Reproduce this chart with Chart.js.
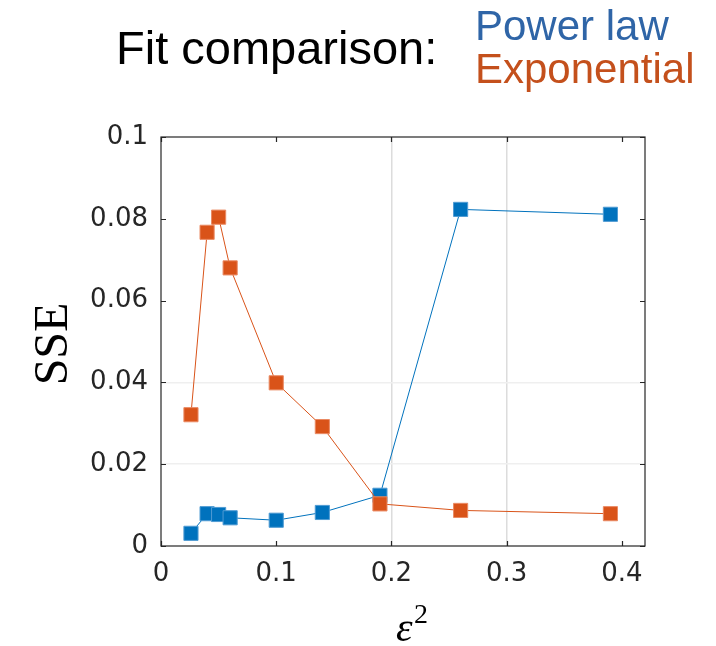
<!DOCTYPE html>
<html>
<head>
<meta charset="utf-8">
<script src="https://cdn.jsdelivr.net/npm/chart.js@4/dist/chart.umd.min.js"></script>
<style>
  html, body { margin: 0; padding: 0; background: #fff; }
  #wrap { width: 716px; height: 646px; }
</style>
</head>
<body>
<div id="wrap"><canvas id="fit" width="716" height="646"></canvas></div>
<script>
// epsilon^2 values on the x axis
const eps2 = [0.026, 0.04, 0.05, 0.06, 0.1, 0.14, 0.19, 0.26, 0.39];
// SSE of each fit
const powerLaw = [0.0031, 0.0079, 0.0077, 0.0069, 0.0063, 0.0082, 0.0124, 0.0823, 0.0811];
const exponential = [0.0321, 0.0767, 0.0804, 0.068, 0.0399, 0.0292, 0.0103, 0.0087, 0.0079];
// tick labels
const xTicks = [0, 0.1, 0.2, 0.3, 0.4];
const yTicks = [0, 0.02, 0.04, 0.06, 0.08, 0.1];
// only these grid lines show in the original
const xGrid = [0.2, 0.3];
const yGrid = [0.02, 0.04];

const BLUE = '#0072BD';
const ORANGE = '#D95319';
const AXIS = '#262626';

const pts = (ys) => eps2.map((x, i) => ({ x: x, y: ys[i] }));

// box, inward ticks, axis titles and the header text
const decor = {
  id: 'decor',
  afterDatasetsDraw(chart) {
    const { ctx, chartArea: a, scales: { x, y } } = chart;
    ctx.save();
    ctx.strokeStyle = AXIS;
    ctx.lineWidth = 1.2;
    ctx.strokeRect(a.left, a.top, a.right - a.left, a.bottom - a.top);
    ctx.beginPath();
    xTicks.forEach(v => {
      const px = Math.round(x.getPixelForValue(v)) + 0.5;
      ctx.moveTo(px, a.bottom); ctx.lineTo(px, a.bottom - 5);
      ctx.moveTo(px, a.top); ctx.lineTo(px, a.top + 5);
    });
    yTicks.forEach(v => {
      const py = Math.round(y.getPixelForValue(v)) + 0.5;
      ctx.moveTo(a.left, py); ctx.lineTo(a.left + 5, py);
      ctx.moveTo(a.right, py); ctx.lineTo(a.right - 5, py);
    });
    ctx.stroke();

    // y title
    ctx.fillStyle = '#000';
    ctx.font = '48px "Liberation Serif"';
    ctx.textAlign = 'center';
    ctx.textBaseline = 'alphabetic';
    ctx.translate(67, 344);
    ctx.rotate(-Math.PI / 2);
    ctx.fillText('SSE', 0, 0);
    ctx.restore();

    ctx.save();
    ctx.fillStyle = '#000';
    ctx.textAlign = 'left';
    ctx.textBaseline = 'alphabetic';
    // x title: epsilon squared
    ctx.font = 'italic 42px "Liberation Serif"';
    ctx.fillText('ε', 396, 641);
    ctx.font = '28px "Liberation Serif"';
    ctx.fillText('2', 414, 623);

    // header
    ctx.font = '47px "Liberation Sans"';
    ctx.fillText('Fit comparison:', 116, 64);
    ctx.font = '42px "Liberation Sans"';
    ctx.fillStyle = '#2F65A7';
    ctx.fillText('Power law', 475, 40);
    ctx.fillStyle = '#C4501C';
    ctx.fillText('Exponential', 475, 83);
    ctx.restore();
  }
};

new Chart(document.getElementById('fit'), {
  type: 'line',
  data: {
    datasets: [
      {
        label: 'Power law',
        data: pts(powerLaw),
        borderColor: BLUE,
        borderWidth: 1,
        backgroundColor: BLUE,
        pointStyle: 'rect',
        pointRadius: 10,
        pointBackgroundColor: BLUE,
        pointBorderColor: '#4f9bd3',
        pointBorderWidth: 1,
        order: 2
      },
      {
        label: 'Exponential',
        data: pts(exponential),
        borderColor: ORANGE,
        borderWidth: 1,
        backgroundColor: ORANGE,
        pointStyle: 'rect',
        pointRadius: 10,
        pointBackgroundColor: ORANGE,
        pointBorderColor: '#ea8a63',
        pointBorderWidth: 1,
        order: 1
      }
    ]
  },
  options: {
    responsive: false,
    devicePixelRatio: 1,
    animation: false,
    layout: { padding: { top: 137, right: 71, left: 0, bottom: 0 } },
    plugins: { legend: { display: false }, tooltip: { enabled: false } },
    scales: {
      x: {
        type: 'linear',
        min: 0,
        max: 0.42,
        afterBuildTicks: s => { s.ticks = xTicks.map(v => ({ value: v })); },
        afterFit: s => { s.height = 100; },
        border: { display: false },
        grid: {
          drawTicks: false,
          lineWidth: 1.5,
          color: c => (c.tick && xGrid.includes(c.tick.value)) ? '#dcdcdc' : 'rgba(0,0,0,0)'
        },
        ticks: {
          padding: 13,
          maxRotation: 0,
          color: AXIS,
          font: { family: '"DejaVu Sans"', size: 26 },
          callback: v => String(v)
        }
      },
      y: {
        type: 'linear',
        min: 0,
        max: 0.1,
        afterBuildTicks: s => { s.ticks = yTicks.map(v => ({ value: v })); },
        afterFit: s => { s.width = 161; },
        border: { display: false },
        grid: {
          drawTicks: false,
          lineWidth: 1.5,
          color: c => (c.tick && yGrid.includes(c.tick.value)) ? '#efefef' : 'rgba(0,0,0,0)'
        },
        ticks: {
          padding: 13,
          color: AXIS,
          font: { family: '"DejaVu Sans"', size: 26 },
          callback: v => String(v)
        }
      }
    }
  },
  plugins: [decor]
});
</script>
</body>
</html>
